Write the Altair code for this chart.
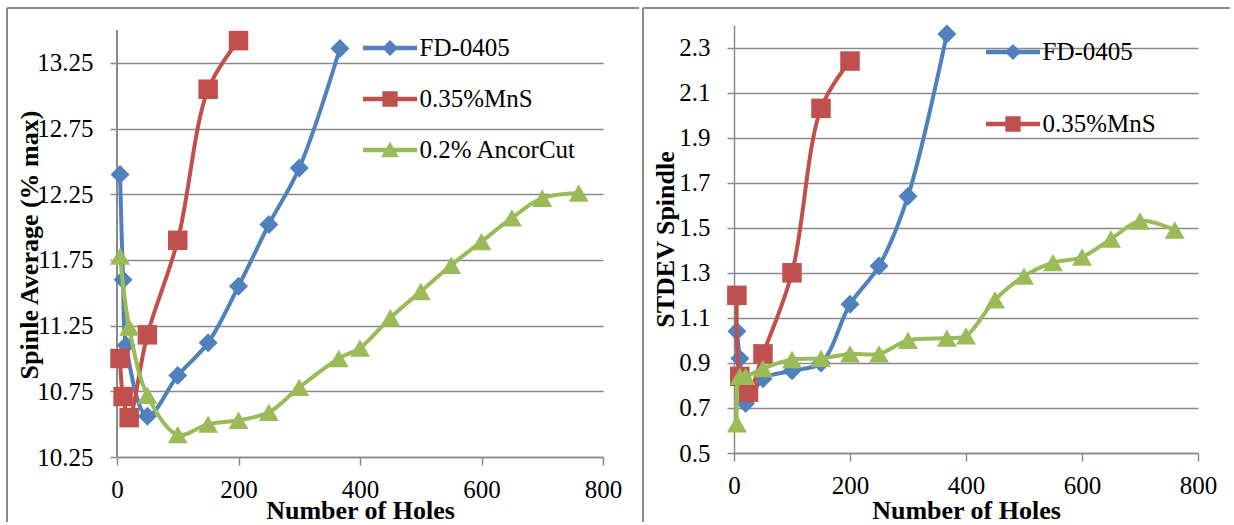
import altair as alt
import pandas as pd

FONT = "Liberation Serif"
GRID = "#8a8a8a"
SERIES = ["FD-0405", "0.35%MnS", "0.2% AncorCut"]
COLORS = ["#4F81BD", "#C0504D", "#9BBB59"]
SHAPES = ["diamond", "square", "triangle-up"]
SIZES = [360, 380, 400]
X_TICKS = [0, 200, 400, 600, 800]

# ---- left panel: Spinle Average (% max)
avg_fd_x = [5, 10, 15, 50, 100, 150, 200, 250, 300, 367]
avg_fd_y = [12.40, 11.60, 11.10, 10.56, 10.87, 11.12, 11.55, 12.02, 12.45, 13.36]
avg_mns_x = [5, 10, 20, 50, 100, 150, 200]
avg_mns_y = [11.00, 10.71, 10.55, 11.18, 11.90, 13.05, 13.42]
avg_anc_x = [5, 20, 50, 100, 150, 200, 250, 300, 365, 400, 450, 500, 550, 600, 650, 700, 760]
avg_anc_y = [11.78, 11.24, 10.72, 10.42, 10.50, 10.53, 10.59, 10.78, 11.00, 11.08, 11.31,
             11.51, 11.71, 11.89, 12.07, 12.22, 12.26]
avg_ticks = [10.25, 10.75, 11.25, 11.75, 12.25, 12.75, 13.25]

# ---- right panel: STDEV Spindle
sd_fd_x = [5, 10, 20, 50, 100, 150, 200, 250, 300, 367]
sd_fd_y = [1.04, 0.92, 0.72, 0.83, 0.865, 0.90, 1.16, 1.33, 1.64, 2.36]
sd_mns_x = [5, 10, 25, 50, 100, 150, 200]
sd_mns_y = [1.20, 0.84, 0.77, 0.94, 1.30, 2.03, 2.24]
sd_anc_x = [5, 10, 20, 50, 100, 150, 200, 250, 300, 367, 400, 450, 500, 550, 600, 650, 700, 760]
sd_anc_y = [0.63, 0.84, 0.84, 0.875, 0.915, 0.92, 0.94, 0.94, 1.00, 1.01, 1.02, 1.18,
            1.285, 1.345, 1.37, 1.45, 1.53, 1.49]
sd_ticks = [0.5, 0.7, 0.9, 1.1, 1.3, 1.5, 1.7, 1.9, 2.1, 2.3]

# legend symbols: line segment plus marker (unit-square SVG paths)
BAR = "M-3,-0.24L3,-0.24L3,0.24L-3,0.24Z "
LEG_PATHS = [
    BAR + "M0,-0.9L0.9,0L0,0.9L-0.9,0Z",
    BAR + "M-0.85,-0.85L0.85,-0.85L0.85,0.85L-0.85,0.85Z",
    BAR + "M0,-0.95L1,0.8L-1,0.8Z",
]


def make_panel(sets, ydom, yticks, yfmt, w, h, ytitle, ytitle_x, ytitle_y, xtitle_y,
               leg_vals, leg_x, leg_y, leg_rp, frame, yline):
    rows = []
    for name, xs, ys in sets:
        for a, b in zip(xs, ys):
            rows.append({"series": name, "holes": a, "value": b})
    df = pd.DataFrame(rows)

    xenc = alt.X("holes:Q",
                 scale=alt.Scale(domain=[0, 800], nice=False, zero=False),
                 axis=alt.Axis(values=X_TICKS, title="Number of Holes", grid=False,
                               domain=True, domainColor=GRID, domainWidth=1.5,
                               ticks=True, tickSize=8, tickColor=GRID, tickWidth=1.5,
                               labelFlush=False, labelOverlap=False,
                               labelPadding=12, labelFontSize=25, labelFont=FONT,
                               labelColor="black", titleFont=FONT, titleFontSize=26,
                               titleFontWeight="bold", titleColor="black",
                               titleBaseline="alphabetic", titleX=w / 2, titleY=xtitle_y,
                               titleAlign="center"))
    yenc = alt.Y("value:Q",
                 scale=alt.Scale(domain=ydom, nice=False, zero=False),
                 axis=alt.Axis(values=yticks, format=yfmt, title=ytitle, grid=True,
                               gridColor=GRID, gridWidth=1.5, domain=not yline,
                               domainColor=GRID, domainWidth=1.5,
                               labelFlush=False, labelOverlap=False,
                               ticks=True, tickSize=7, tickColor=GRID, tickWidth=1.5,
                               labelPadding=17, labelFontSize=25, labelFont=FONT,
                               labelColor="black", titleFont=FONT, titleFontSize=26,
                               titleFontWeight="bold", titleColor="black",
                               titleAngle=270, titleBaseline="alphabetic",
                               titleAlign="center", titleX=ytitle_x, titleY=ytitle_y))

    base = alt.Chart(df)
    layers = []

    one = alt.Data(values=[{"k": 1}])
    fl, fr, ft, fb = frame
    layers.append(alt.Chart(one).mark_rule(color=GRID, strokeWidth=2).encode(
        x=alt.value(fl), x2=alt.value(fr), y=alt.value(ft)))
    layers.append(alt.Chart(one).mark_rule(color=GRID, strokeWidth=2).encode(
        x=alt.value(fl), y=alt.value(ft), y2=alt.value(fb)))
    if fr < w:
        layers.append(alt.Chart(one).mark_rule(color=GRID, strokeWidth=2).encode(
            x=alt.value(fr), y=alt.value(ft), y2=alt.value(fb)))

    if yline:
        layers.append(base.mark_rule(color=GRID, strokeWidth=1.5).encode(
            x=alt.value(0), y=alt.datum(yline[0]), y2=alt.datum(yline[1])))

    for name, col, shp, sz in zip(SERIES, COLORS, SHAPES, SIZES):
        if name not in df["series"].values:
            continue
        sub = base.transform_filter(alt.datum.series == name)
        layers.append(sub.mark_line(interpolate="catmull-rom", strokeWidth=4, color=col,
                                    strokeCap="round", strokeJoin="round").encode(
            x=xenc, y=yenc, order="holes:Q"))
        layers.append(sub.mark_point(filled=True, opacity=1, strokeWidth=0, color=col,
                                     shape=shp, size=sz).encode(x=xenc, y=yenc))

    leg = alt.Legend(orient="none", legendX=leg_x, legendY=leg_y, title=None,
                     values=leg_vals, symbolSize=324, symbolStrokeWidth=0,
                     symbolOpacity=1, labelFont=FONT, labelFontSize=25,
                     labelColor="black", labelOffset=17, rowPadding=leg_rp,
                     padding=0, labelLimit=400)
    layers.append(base.transform_filter("false").mark_point(
        filled=True, opacity=1, strokeWidth=0).encode(
        x=xenc, y=yenc,
        color=alt.Color("series:N", scale=alt.Scale(domain=SERIES, range=COLORS), legend=leg),
        shape=alt.Shape("series:N", scale=alt.Scale(domain=SERIES, range=LEG_PATHS), legend=leg),
    ))

    return alt.layer(*layers).properties(width=w, height=h)


left = make_panel(
    [(SERIES[0], avg_fd_x, avg_fd_y), (SERIES[1], avg_mns_x, avg_mns_y),
     (SERIES[2], avg_anc_x, avg_anc_y)],
    [10.25, 13.539], avg_ticks, ".2f", 486, 432, "Spinle Average (% max)", -80, 219.5, 61,
    SERIES, 260.5, 10.5, 25, (-110, 522, -17, 497), (10.25, 13.5))

right = make_panel(
    [(SERIES[0], sd_fd_x, sd_fd_y), (SERIES[1], sd_mns_x, sd_mns_y),
     (SERIES[2], sd_anc_x, sd_anc_y)],
    [0.5, 2.4], sd_ticks, ".1f", 464, 428, "STDEV Spindle", -61, 214, 65,
    SERIES[:2], 266.5, 14.5, 46, (-91, 496, -17, 497), None)

chart = alt.hconcat(left, right, spacing=131, bounds="flush").resolve_scale(
    x="independent", y="independent", color="independent", shape="independent"
).resolve_legend(color="independent", shape="independent").properties(
    padding={"left": 6, "top": 7, "right": 0, "bottom": 0}
).configure(background="white", font=FONT).configure_view(stroke=None)

chart.save("out.html", embed_options={"renderer": "svg", "actions": False})
